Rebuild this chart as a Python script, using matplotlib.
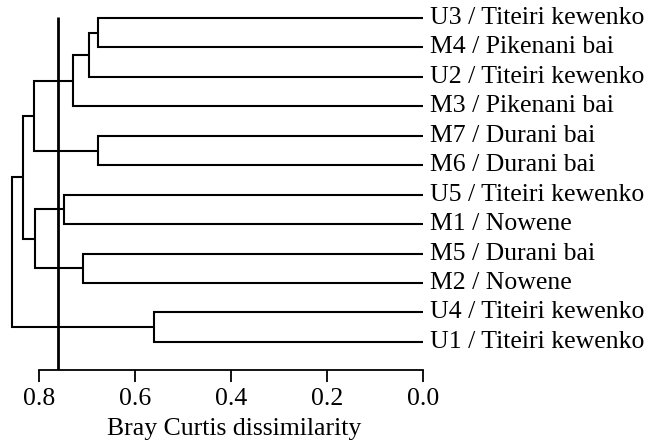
import matplotlib
matplotlib.use("Agg")
import matplotlib.pyplot as plt

plt.rcParams['font.family'] = ['Liberation Serif', 'DejaVu Serif']

# Leaves, top to bottom
leaf_labels = ["U3 / Titeiri kewenko", "M4 / Pikenani bai", "U2 / Titeiri kewenko",
               "M3 / Pikenani bai", "M7 / Durani bai", "M6 / Durani bai",
               "U5 / Titeiri kewenko", "M1 / Nowene", "M5 / Durani bai",
               "M2 / Nowene", "U4 / Titeiri kewenko", "U1 / Titeiri kewenko"]

# Linkage: (child a, child b, height); new clusters numbered from 12 on
merge_a = [0, 4, 12, 10, 8, 14, 6, 18, 17, 20, 21]
merge_b = [1, 5, 2, 11, 9, 3, 7, 16, 13, 19, 15]
merge_h = [0.677, 0.677, 0.696, 0.561, 0.709, 0.731, 0.748, 0.809, 0.811, 0.835, 0.857]

cut_value = 0.762
xticks = [0.8, 0.6, 0.4, 0.2, 0.0]
xlabel = "Bray Curtis dissimilarity"

W, H = 650, 441
fig = plt.figure(figsize=(W / 100, H / 100), dpi=100)
ax = fig.add_axes([0, (H - 370) / H, 423 / W, 370 / H])

n = len(leaf_labels)
pos = {i: float(i) for i in range(n)}
hgt = {i: 0.0 for i in range(n)}
lw = 1.5
for k, (a, b, h) in enumerate(zip(merge_a, merge_b, merge_h)):
    c = n + k
    ya, yb = pos[a], pos[b]
    ax.plot([hgt[a], h, h, hgt[b]], [ya, ya, yb, yb], color='black', lw=lw,
            solid_joinstyle='miter', solid_capstyle='butt')
    pos[c] = (ya + yb) / 2
    hgt[c] = h

ax.set_xlim(423 / 479.4, 0.0)
ax.set_ylim((370 - 18) / 29.45, -18 / 29.45)

ax.plot([cut_value, cut_value], [-0.02, (370 - 18) / 29.45], color='black', lw=2.0,
        solid_capstyle='butt')

for i, lab in enumerate(leaf_labels):
    ax.text(-0.014, i, lab, ha='left', va='center', fontsize=18.5, clip_on=False)

for s in ['left', 'top', 'right']:
    ax.spines[s].set_visible(False)
ax.spines['bottom'].set_bounds(0.8, 0.0)
ax.spines['bottom'].set_linewidth(1.3)
ax.set_yticks([])
ax.set_xticks(xticks)
ax.set_xticklabels([f"{t:.1f}" for t in xticks])
ax.tick_params(axis='x', direction='out', length=8.5, width=1.3, labelsize=18.5, pad=4.5)
ax.set_xlabel(xlabel, fontsize=18.5)
ax.xaxis.set_label_coords(0.553, -0.13)

fig.savefig("out.png", dpi=100)
